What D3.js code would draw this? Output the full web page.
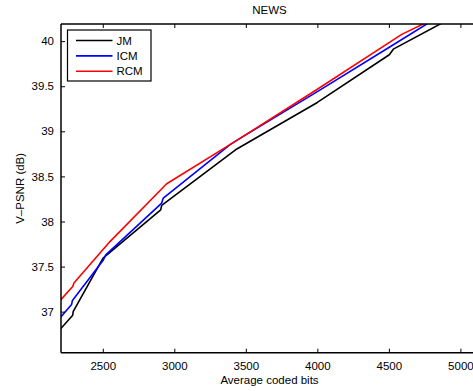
<!DOCTYPE html>
<html><head><meta charset="utf-8">
<script src="https://cdn.jsdelivr.net/npm/d3@7"></script>
<style>body{margin:0;background:#fff}svg{display:block}text{font-family:"Liberation Sans",Arial,sans-serif;fill:#000}</style>
</head><body><svg id="c" width="473" height="391"></svg>
<script>
const title = "NEWS";
const xLabel = "Average coded bits";
const yLabel = "V\u2013PSNR (dB)";
const seriesNames = ["JM", "ICM", "RCM"];
const seriesColors = ["#000000", "#0000ff", "#ff0000"];
const xTicks = [2500, 3000, 3500, 4000, 4500, 5000];
const yTicks = [37, 37.5, 38, 38.5, 39, 39.5, 40];
const jmX  = [2200, 2290, 2293, 2502, 2905, 2912, 3428, 4000, 4503, 4531, 5000];
const jmY  = [36.80, 36.96, 37.00, 37.593, 38.13, 38.178, 38.795, 39.32, 39.849, 39.911, 40.31];
const icmX = [2200, 2282, 2288, 2504, 2521, 2912, 2923, 3390, 3425, 4000, 4500, 5000];
const icmY = [36.93, 37.08, 37.125, 37.574, 37.63, 38.204, 38.26, 38.852, 38.889, 39.44, 39.93, 40.42];
const rcmX = [2200, 2290, 2300, 2552, 2947, 3440, 4000, 4590, 5000];
const rcmY = [37.12, 37.28, 37.32, 37.78, 38.419, 38.903, 39.466, 40.075, 40.39];

const svg = d3.select("#c");
const L = 61, T = 24, R = 478, B = 352.7;
const x = d3.scaleLinear().domain([2208, 5123]).range([L, R]);
const y = d3.scaleLinear().domain([36.545, 40.19]).range([B, T]);

svg.append("defs").append("clipPath").attr("id", "clip")
  .append("rect").attr("x", L).attr("y", T).attr("width", R - L).attr("height", B - T);

const series = [[jmX, jmY], [icmX, icmY], [rcmX, rcmY]];
const line = d3.line().x(d => x(d[0])).y(d => y(d[1]));
series.forEach((s, i) => {
  const pts = s[0].map((v, j) => [v, s[1][j]]);
  svg.append("path").attr("d", line(pts)).attr("fill", "none")
    .attr("stroke", seriesColors[i]).attr("stroke-width", 1.6)
    .attr("stroke-linejoin", "round").attr("clip-path", "url(#clip)");
});

// axes (MATLAB style, inward ticks)
const ax = svg.append("g");
ax.append("g").attr("transform", `translate(0,${B})`)
  .call(d3.axisBottom(x).tickValues(xTicks).tickSize(-4).tickPadding(9).tickFormat(d3.format("d")));
ax.append("g").attr("transform", `translate(0,${T})`)
  .call(d3.axisTop(x).tickValues(xTicks).tickSize(-4).tickFormat(""));
ax.append("g").attr("transform", `translate(${L},0)`)
  .call(d3.axisLeft(y).tickValues(yTicks).tickSize(-4).tickPadding(7).tickFormat(d => d3.format("")(d)));
ax.selectAll(".domain").attr("stroke", "#000").attr("stroke-width", 1.4);
ax.selectAll(".tick line").attr("stroke", "#000").attr("stroke-width", 1);
ax.selectAll(".tick text").attr("font-size", 11.5).style("font-family", '"Liberation Sans",Arial,sans-serif');
ax.selectAll("path.domain").attr("d", null);
svg.append("line").attr("x1", L).attr("x2", R).attr("y1", B).attr("y2", B).attr("stroke", "#000").attr("stroke-width", 1.5);
svg.append("line").attr("x1", L).attr("x2", R).attr("y1", T).attr("y2", T).attr("stroke", "#000").attr("stroke-width", 1.5);
svg.append("line").attr("x1", L).attr("x2", L).attr("y1", T).attr("y2", B).attr("stroke", "#000").attr("stroke-width", 1.5);

svg.append("text").attr("x", (L + R) / 2).attr("y", 14).attr("text-anchor", "middle").attr("font-size", 11.5).text(title);
svg.append("text").attr("x", (L + R) / 2).attr("y", 384).attr("text-anchor", "middle").attr("font-size", 11.5).text(xLabel);
svg.append("text").attr("transform", `translate(24,${(T + B) / 2}) rotate(-90)`).attr("text-anchor", "middle").attr("font-size", 11.5).text(yLabel);

// legend
const lg = svg.append("g");
lg.append("rect").attr("x", 67.5).attr("y", 30).attr("width", 83.5).attr("height", 51)
  .attr("fill", "#fff").attr("stroke", "#000").attr("stroke-width", 1.2);
seriesNames.forEach((n, i) => {
  const yy = 40.5 + i * 15.4;
  lg.append("line").attr("x1", 76).attr("x2", 112.5).attr("y1", yy).attr("y2", yy)
    .attr("stroke", seriesColors[i]).attr("stroke-width", 1.6);
  lg.append("text").attr("x", 116.5).attr("y", yy + 4).attr("font-size", 11.5).text(n);
});
</script></body></html>
